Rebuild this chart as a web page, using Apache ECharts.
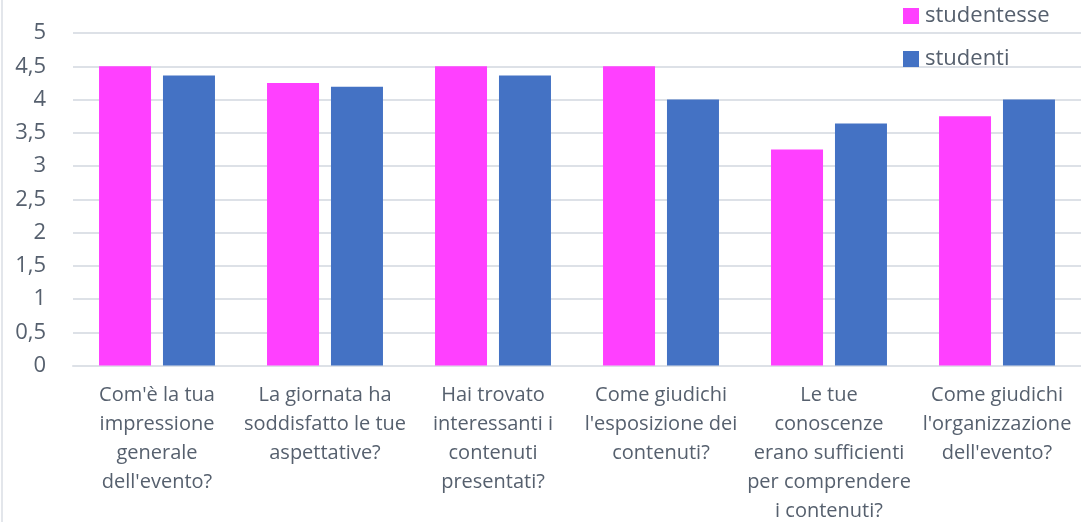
<!DOCTYPE html>
<html><head><meta charset="utf-8">
<script src="https://cdn.jsdelivr.net/npm/echarts@6/dist/echarts.min.js"></script>
<style>html,body{margin:0;padding:0;background:#fff}#c{width:1081px;height:522px}</style>
</head><body><div id="c"></div>
<script>
var categories = [
  "Com'è la tua\nimpressione\ngenerale\ndell'evento?",
  "La giornata ha\nsoddisfatto le tue\naspettative?",
  "Hai trovato\ninteressanti i\ncontenuti\npresentati?",
  "Come giudichi\nl'esposizione dei\ncontenuti?",
  "Le tue\nconoscenze\nerano sufficienti\nper comprendere\ni contenuti?",
  "Come giudichi\nl'organizzazione\ndell'evento?"
];
var studentesse = [4.5, 4.25, 4.5, 4.5, 3.25, 3.75];
var studenti = [4.36, 4.19, 4.36, 4.0, 3.64, 4.0];
var FONT = '"Open Sans", Lato, sans-serif';
var TXT = '#56606e';
var chart = echarts.init(document.getElementById('c'), null, {renderer:'canvas'});
chart.setOption({
  animation:false,
  backgroundColor:'#fff',
  textStyle:{fontFamily:FONT},
  legend:{
    orient:'vertical', left:898, top:0, itemWidth:16, itemHeight:16, itemGap:21,
    icon:'rect',
    textStyle:{fontFamily:FONT, fontSize:22, color:TXT, padding:[0,0,0,1]},
    data:['studentesse','studenti']
  },
  grid:{left:73, right:0, top:33, bottom:156.5, containLabel:false, outerBoundsMode:'none'},
  xAxis:{
    type:'category', data:categories,
    axisLine:{show:true, lineStyle:{color:'#dde1e7', width:2}},
    axisTick:{show:false},
    axisLabel:{interval:0, fontFamily:FONT, fontSize:20, color:TXT, lineHeight:29, margin:15, align:'center'}
  },
  yAxis:{
    type:'value', min:0, max:5, interval:0.5,
    axisLine:{show:false}, axisTick:{show:false},
    splitLine:{lineStyle:{color:'#dde1e7', width:2}},
    axisLabel:{fontFamily:FONT, fontSize:22, color:TXT, margin:27,
      formatter:function(v){return String(v).replace('.', ',');}}
  },
  series:[
    {name:'studentesse', type:'bar', data:studentesse, barWidth:52, barGap:'23%',
     itemStyle:{color:'#FF40FF'}},
    {name:'studenti', type:'bar', data:studenti, barWidth:52,
     itemStyle:{color:'#4472C4'}}
  ],
  graphic:[{type:'rect', shape:{x:1, y:0, width:2, height:522}, style:{fill:'#e3e6eb'}}]
});
</script></body></html>
